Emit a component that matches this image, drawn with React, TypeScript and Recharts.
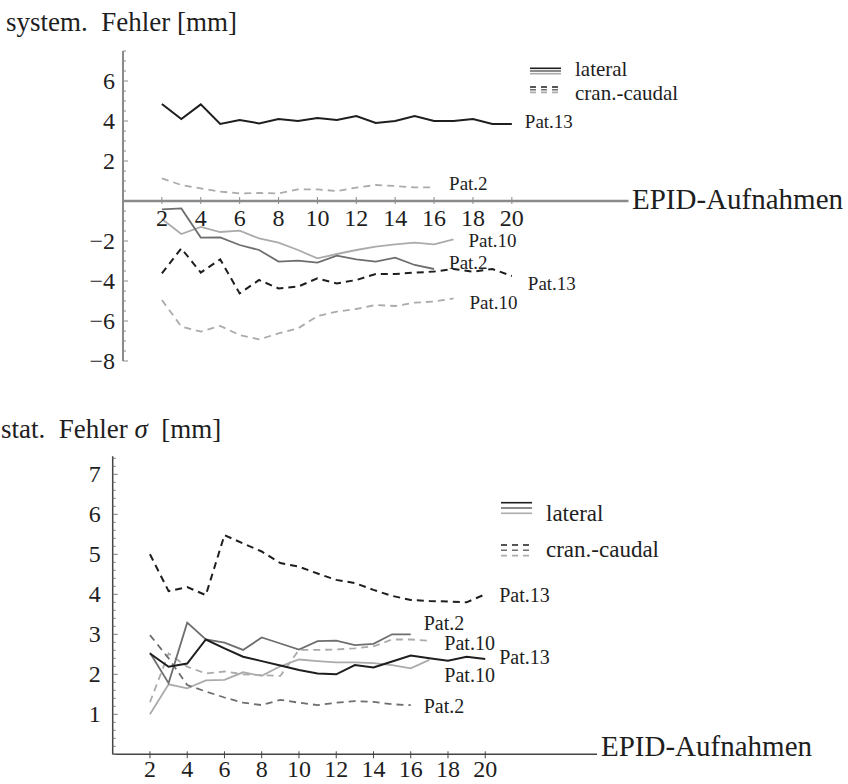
import React from 'react';
import { LineChart, Line, XAxis, YAxis, ReferenceLine, ReferenceDot, Legend } from 'recharts';

const FONT = '"Liberation Serif", "Times New Roman", serif';
const INK = '#1e1e1e';
const DARK = '#1e1e1e';
const MID = '#6e6e6e';
const LIGHT = '#ababab';

// number of EPID images, first point at 2
const xStart = 2;
const xTicks = [2, 4, 6, 8, 10, 12, 14, 16, 18, 20];

// systematic error [mm]
const sysLat13 = [4.85, 4.1, 4.83, 3.85, 4.05, 3.88, 4.1, 4.0, 4.15, 4.05, 4.25, 3.9, 4.0, 4.25, 4.0, 4.0, 4.1, 3.85, 3.85];
const sysLat2 = [-0.42, -0.37, -1.83, -1.82, -2.2, -2.45, -3.03, -2.98, -3.08, -2.73, -2.92, -3.03, -2.83, -3.2, -3.4];
const sysLat10 = [-0.9, -1.65, -1.3, -1.55, -1.48, -1.87, -2.08, -2.45, -2.87, -2.65, -2.45, -2.28, -2.17, -2.08, -2.17, -1.92];
const sysCc13 = [-3.62, -2.37, -3.58, -2.92, -4.62, -3.95, -4.37, -4.28, -3.87, -4.12, -3.95, -3.65, -3.65, -3.58, -3.53, -3.4, -3.53, -3.4, -3.75];
const sysCc2 = [1.13, 0.8, 0.63, 0.47, 0.38, 0.4, 0.38, 0.58, 0.58, 0.5, 0.67, 0.8, 0.75, 0.68, 0.68];
const sysCc10 = [-4.95, -6.28, -6.53, -6.25, -6.7, -6.92, -6.62, -6.37, -5.75, -5.53, -5.4, -5.2, -5.25, -5.08, -5.03, -4.87];
const sysYLabels = [-8, -6, -4, -2, 2, 4, 6];

// statistical error sigma [mm]
const statLat13 = [2.52, 2.19, 2.27, 2.87, 2.65, 2.44, 2.33, 2.22, 2.11, 2.02, 2.0, 2.23, 2.17, 2.32, 2.47, 2.4, 2.34, 2.44, 2.38];
const statLat2 = [2.54, 1.78, 3.29, 2.87, 2.79, 2.61, 2.92, 2.77, 2.62, 2.83, 2.84, 2.73, 2.76, 3.0, 3.0];
const statLat10 = [1.0, 1.75, 1.65, 1.85, 1.86, 2.05, 1.96, 2.2, 2.37, 2.33, 2.3, 2.3, 2.28, 2.23, 2.15, 2.36];
const statCc13 = [5.0, 4.08, 4.18, 3.98, 5.48, 5.27, 5.07, 4.78, 4.69, 4.52, 4.36, 4.28, 4.11, 3.96, 3.86, 3.83, 3.82, 3.8, 4.0];
const statCc2 = [2.98, 2.4, 1.73, 1.57, 1.42, 1.29, 1.23, 1.36, 1.29, 1.23, 1.29, 1.33, 1.31, 1.25, 1.23];
const statCc10 = [1.3, 2.52, 2.19, 2.02, 2.07, 2.0, 1.98, 1.96, 2.61, 2.61, 2.62, 2.65, 2.7, 2.87, 2.87, 2.84];
const statYLabels = [1, 2, 3, 4, 5, 6, 7];

type Series = { key: string; values: number[]; color: string; width: number; dashed: boolean; label: string; dx: number; dy: number };

const sysSeries: Series[] = [
  { key: 'cc10', values: sysCc10, color: LIGHT, width: 1.8, dashed: true, label: 'Pat.10', dx: 16, dy: 4 },
  { key: 'lat10', values: sysLat10, color: LIGHT, width: 1.8, dashed: false, label: 'Pat.10', dx: 15, dy: 1 },
  { key: 'cc2', values: sysCc2, color: LIGHT, width: 1.8, dashed: true, label: 'Pat.2', dx: 15, dy: -4 },
  { key: 'lat2', values: sysLat2, color: MID, width: 1.8, dashed: false, label: 'Pat.2', dx: 15, dy: -7 },
  { key: 'cc13', values: sysCc13, color: DARK, width: 2, dashed: true, label: 'Pat.13', dx: 16, dy: 7 },
  { key: 'lat13', values: sysLat13, color: DARK, width: 2, dashed: false, label: 'Pat.13', dx: 13, dy: -3 },
];

const statSeries: Series[] = [
  { key: 'cc10', values: statCc10, color: LIGHT, width: 1.8, dashed: true, label: 'Pat.10', dx: 15, dy: 2 },
  { key: 'lat10', values: statLat10, color: LIGHT, width: 1.8, dashed: false, label: 'Pat.10', dx: 15, dy: 15 },
  { key: 'cc2', values: statCc2, color: MID, width: 1.8, dashed: true, label: 'Pat.2', dx: 13, dy: 1 },
  { key: 'lat2', values: statLat2, color: MID, width: 1.8, dashed: false, label: 'Pat.2', dx: 13, dy: -11 },
  { key: 'cc13', values: statCc13, color: DARK, width: 2, dashed: true, label: 'Pat.13', dx: 14, dy: 1 },
  { key: 'lat13', values: statLat13, color: DARK, width: 2, dashed: false, label: 'Pat.13', dx: 14, dy: -2 },
];

const toRows = (series: Series[]) => {
  const n = Math.max(...series.map((s) => s.values.length));
  return Array.from({ length: n }, (_, i) => {
    const row: Record<string, number | undefined> = { x: xStart + i };
    series.forEach((s) => {
      row[s.key] = s.values[i];
    });
    return row;
  });
};

const sysRows = toRows(sysSeries);
const statRows = toRows(statSeries);

const fmt = (v: number) => String(v).replace('-', '\u2212');

const endLabel = (s: Series, fontSize: number) => (p: any) => {
  if (p.index !== s.values.length - 1 || p.cx == null) return <g key={`d-${s.key}-${p.index}`} />;
  return (
    <text
      key={`l-${s.key}`}
      x={p.cx + s.dx}
      y={p.cy + s.dy}
      dominantBaseline="central"
      fontFamily={FONT}
      fontSize={fontSize}
      fill={INK}
    >
      {s.label}
    </text>
  );
};

const LegendBox = ({ lineY, textY, gap, x0, fontSize }: { lineY: number[]; textY: number[]; gap: number; x0: number; fontSize: number }) => (
  <svg width={240} height={80} style={{ overflow: 'visible' }}>
    {[DARK, MID, LIGHT].map((c, i) => (
      <line key={`a${i}`} x1={0} x2={x0} y1={lineY[0] + i * gap} y2={lineY[0] + i * gap} stroke={c} strokeWidth={1.6} />
    ))}
    {[DARK, MID, LIGHT].map((c, i) => (
      <line key={`b${i}`} x1={0} x2={x0} y1={lineY[1] + i * gap} y2={lineY[1] + i * gap} stroke={c} strokeWidth={1.6} strokeDasharray="6 5" />
    ))}
    <text x={x0 + 14} y={textY[0]} fontFamily={FONT} fontSize={fontSize} fill={INK}>lateral</text>
    <text x={x0 + 14} y={textY[1]} fontFamily={FONT} fontSize={fontSize} fill={INK}>cran.-caudal</text>
  </svg>
);

const sysMinor = Array.from({ length: 32 }, (_, i) => -8 + i * 0.5);
const statMinor = Array.from({ length: 38 }, (_, i) => Math.round(i * 2) / 10);

const SystemChart = () => (
  <LineChart width={848} height={400} data={sysRows} margin={{ top: 51, right: 219.5, bottom: 39, left: 0 }}>
    <XAxis type="number" dataKey="x" domain={[0, 26]} hide />
    <YAxis
      type="number"
      domain={[-8, 7.5]}
      ticks={sysMinor}
      interval={0}
      width={123}
      tickSize={0}
      tickMargin={0}
      tickLine={false}
      allowDataOverflow
      axisLine={{ stroke: '#8a8a8a', strokeWidth: 2 }}
      tick={(p: any) => {
        const v = p.payload.value;
        const major = sysYLabels.includes(v);
        return (
          <g key={`sy${v}`}>
            <line x1={p.x} x2={p.x + (major ? 5 : 3)} y1={p.y} y2={p.y} stroke="#8a8a8a" strokeWidth={1} />
            {major && (
              <text x={p.x - 8} y={p.y} textAnchor="end" dominantBaseline="central" fontFamily={FONT} fontSize={24} fill={INK}>
                {fmt(v)}
              </text>
            )}
          </g>
        );
      }}
    />
    <ReferenceLine y={0} stroke="#8a8a8a" strokeWidth={2.5} />
    {xTicks.map((t) => (
      <ReferenceDot
        key={t}
        x={t}
        y={0}
        r={0}
        shape={(p: any) => (
          <g>
            <line x1={p.cx} x2={p.cx} y1={p.cy - 4} y2={p.cy + 3} stroke="#8a8a8a" strokeWidth={1} />
            <text x={p.cx} y={p.cy + 17} textAnchor="middle" dominantBaseline="central" fontFamily={FONT} fontSize={24} fill={INK}>
              {t}
            </text>
          </g>
        )}
      />
    ))}
    {sysSeries.map((s) => (
      <Line
        key={s.key}
        type="linear"
        dataKey={s.key}
        stroke={s.color}
        strokeWidth={s.width}
        strokeDasharray={s.dashed ? '7 5' : undefined}
        dot={endLabel(s, 19)}
        activeDot={false}
        isAnimationActive={false}
      />
    ))}
    <Legend
      layout="horizontal"
      verticalAlign="middle"
      align="center"
      wrapperStyle={{ left: 530, top: 58, width: 240 }}
      content={() => <LegendBox lineY={[10.3, 29]} textY={[18, 42]} gap={2.7} x0={31} fontSize={21} />}
    />
  </LineChart>
);

const StatChart = () => (
  <LineChart width={848} height={390} data={statRows} margin={{ top: 56.3, right: 251, bottom: 5.7, left: 0 }}>
    <XAxis
      type="number"
      dataKey="x"
      domain={[0, 26]}
      ticks={xTicks}
      interval={0}
      height={30}
      tickSize={0}
      tickMargin={0}
      tickLine={false}
      axisLine={{ stroke: '#444', strokeWidth: 1.5 }}
      tick={(p: any) => (
        <g key={`bx${p.payload.value}`}>
          <line x1={p.x} x2={p.x} y1={p.y - 3} y2={p.y + 4} stroke="#444" strokeWidth={1} />
          <text x={p.x} y={p.y + 15} textAnchor="middle" dominantBaseline="central" fontFamily={FONT} fontSize={24} fill={INK}>
            {p.payload.value}
          </text>
        </g>
      )}
    />
    <YAxis
      type="number"
      domain={[0, 7.45]}
      ticks={statMinor}
      interval={0}
      width={112.7}
      tickSize={0}
      tickMargin={0}
      tickLine={false}
      allowDataOverflow
      axisLine={{ stroke: '#444', strokeWidth: 1.5 }}
      tick={(p: any) => {
        const v = p.payload.value;
        const major = statYLabels.includes(v);
        return (
          <g key={`by${v}`}>
            <line x1={p.x} x2={p.x + (major ? 5 : 3)} y1={p.y} y2={p.y} stroke="#777" strokeWidth={1} />
            {major && (
              <text x={p.x - 12} y={p.y} textAnchor="end" dominantBaseline="central" fontFamily={FONT} fontSize={24} fill={INK}>
                {v}
              </text>
            )}
          </g>
        );
      }}
    />
    {statSeries.map((s) => (
      <Line
        key={s.key}
        type="linear"
        dataKey={s.key}
        stroke={s.color}
        strokeWidth={s.width}
        strokeDasharray={s.dashed ? '7 5' : undefined}
        dot={endLabel(s, 20)}
        activeDot={false}
        isAnimationActive={false}
      />
    ))}
    <Legend
      layout="horizontal"
      verticalAlign="middle"
      align="center"
      wrapperStyle={{ left: 501, top: 92, width: 240 }}
      content={() => <LegendBox lineY={[10.7, 53]} textY={[29, 65]} gap={5.3} x0={31} fontSize={23} />}
    />
  </LineChart>
);

export default function App() {
  return (
    <div style={{ position: 'absolute', left: 0, top: 0, width: 848, height: 784, background: '#fff', overflow: 'hidden' }}>
      <div style={{ position: 'absolute', left: 0, top: 0 }}>
        <SystemChart />
      </div>
      <div style={{ position: 'absolute', left: 0, top: 400 }}>
        <StatChart />
      </div>
      <svg width={848} height={784} style={{ position: 'absolute', left: 0, top: 0, pointerEvents: 'none' }}>
        <text x={6} y={31} fontFamily={FONT} fontSize={27} fill={INK} xmlSpace="preserve">system.  Fehler [mm]</text>
        <text x={1} y={438} fontFamily={FONT} fontSize={27} fill={INK} xmlSpace="preserve">
          stat.  Fehler <tspan fontStyle="italic">σ</tspan>  [mm]
        </text>
        <text x={632} y={209} fontFamily={FONT} fontSize={29} fill={INK}>EPID-Aufnahmen</text>
        <text x={601} y={756} fontFamily={FONT} fontSize={29} fill={INK}>EPID-Aufnahmen</text>
      </svg>
    </div>
  );
}
